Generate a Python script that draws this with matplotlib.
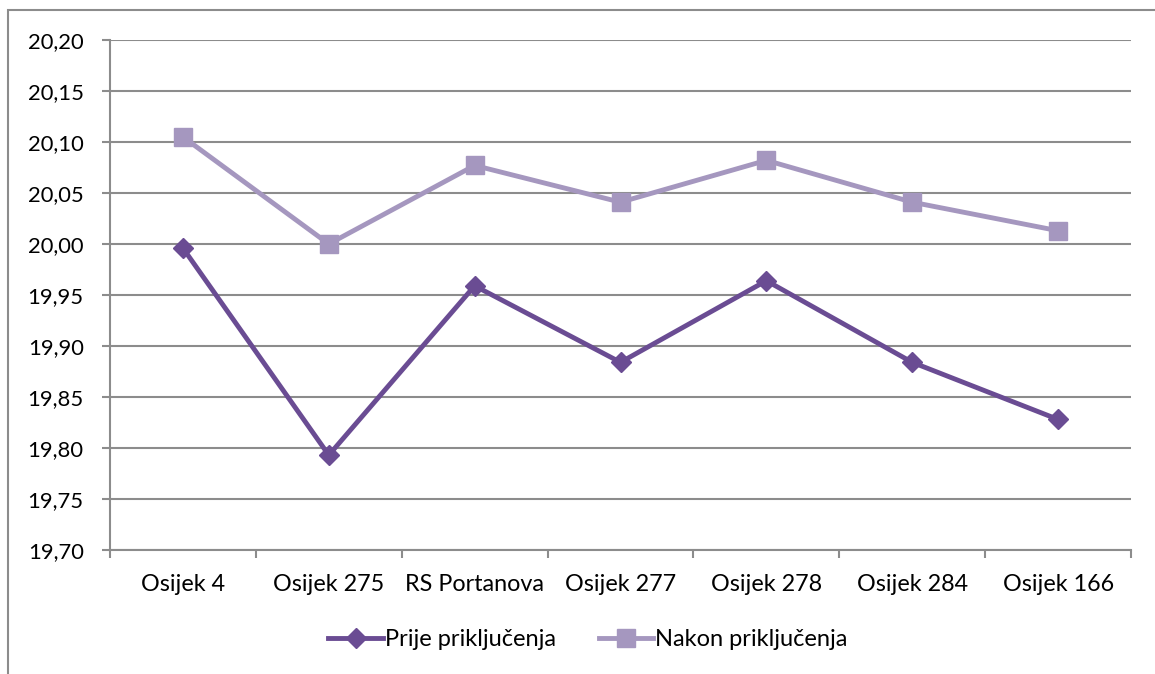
import matplotlib.pyplot as plt
from matplotlib.patches import Rectangle
from matplotlib.ticker import FuncFormatter, MultipleLocator

plt.rcParams['font.family'] = ['Lato', 'DejaVu Sans']

stations = ['Osijek 4', 'Osijek 275', 'RS Portanova', 'Osijek 277',
            'Osijek 278', 'Osijek 284', 'Osijek 166']
prije = [19.996, 19.793, 19.959, 19.884, 19.964, 19.884, 19.828]
nakon = [20.105, 20.000, 20.077, 20.041, 20.082, 20.041, 20.013]

fig = plt.figure(figsize=(11.55, 6.74), dpi=100)
ax = fig.add_axes([110 / 1155, 1 - 550 / 674, (1131 - 110) / 1155, (550 - 40) / 674])

# outer chart border (only left/top visible in original crop)
fig.patches.append(Rectangle((8 / 1155, -0.1), 1.2, 1 - 10 / 674 + 0.1,
                             transform=fig.transFigure, fill=False,
                             edgecolor='#8c8c8c', linewidth=1.5))

x = list(range(len(stations)))
ax.plot(x, prije, color='#6a4c93', linewidth=3.5, marker='D', markersize=10,
        label='Prije priključenja')
ax.plot(x, nakon, color='#a597bf', linewidth=3.5, marker='s', markersize=13,
        label='Nakon priključenja')

ax.set_ylim(19.70, 20.20)
ax.set_xlim(-0.5, len(stations) - 0.5)
ax.yaxis.set_major_locator(MultipleLocator(0.05))
ax.yaxis.set_major_formatter(FuncFormatter(lambda v, p: f'{v:.2f}'.replace('.', ',')))
ax.grid(axis='y', color='#8c8c8c', linewidth=1.5)
ax.set_axisbelow(True)

ax.set_xticks(x)
ax.set_xticklabels(stations)
ax.set_xticks([i - 0.5 for i in range(len(stations) + 1)], minor=True)
ax.tick_params(axis='x', which='major', length=0, pad=17, labelsize=16.8)
ax.tick_params(axis='x', which='minor', length=6, width=1.5, color='#8c8c8c')
ax.tick_params(axis='y', length=6, width=1.5, color='#8c8c8c', pad=13, labelsize=15.8)

for side in ['top', 'right']:
    ax.spines[side].set_visible(False)
for side in ['left', 'bottom']:
    ax.spines[side].set_color('#8c8c8c')
    ax.spines[side].set_linewidth(1.5)

fig.legend(loc='center', bbox_to_anchor=(588 / 1155, 1 - 640 / 674), ncol=2,
           frameon=False, fontsize=17, handlelength=2.3, handletextpad=0.1,
           columnspacing=1.8)

fig.savefig('out.png', dpi=100)
